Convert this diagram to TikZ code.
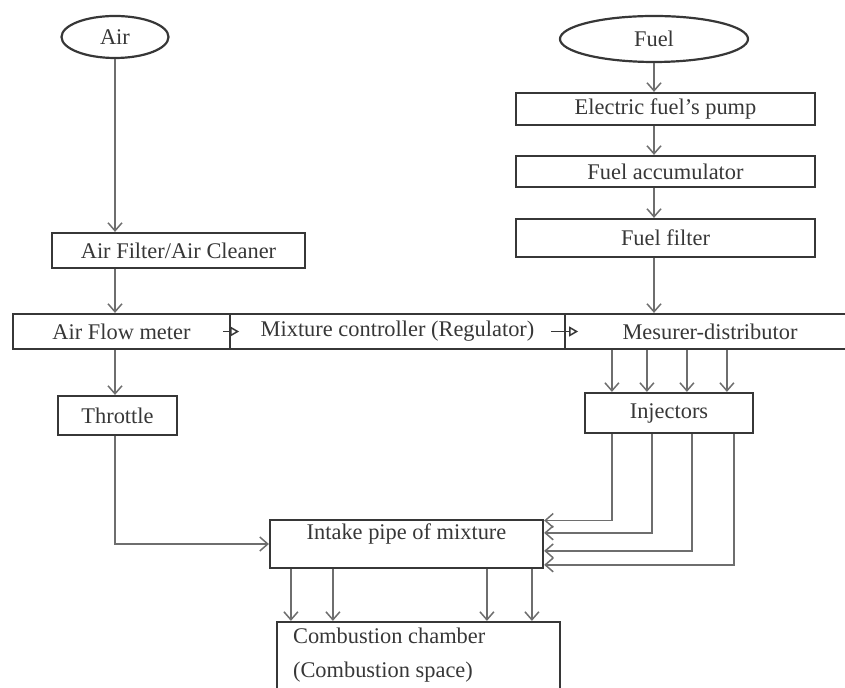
\documentclass[tikz,border=0pt]{standalone}
\usepackage{fontspec}
\setmainfont{Liberation Serif}
\usepackage{tikz}
\usetikzlibrary{arrows.meta,shapes.geometric}
\definecolor{boxgray}{RGB}{55,55,55}
\definecolor{linegray}{RGB}{110,110,110}
\definecolor{textgray}{RGB}{55,55,55}
\tikzset{
	blk/.style 2 args={draw=boxgray,line width=1.1pt,rectangle,inner sep=0pt,text=textgray,minimum width=#1*0.5pt,minimum height=#2*0.5pt},
	src/.style 2 args={draw=boxgray,line width=1.1pt,ellipse,inner sep=0pt,text=textgray,minimum width=#1*0.5pt,minimum height=#2*0.5pt},
	flow/.style={draw=linegray,line width=0.75pt,-{Straight Barb[length=4pt,width=7pt]}},
	pass/.style={draw=boxgray,line width=0.75pt,-{Triangle[open,length=4.5pt,width=5pt]}}
}

\begin{document}
\begin{tikzpicture}[x=0.5pt,y=-0.5pt,font=\fontsize{11.2}{15}\selectfont]
	\useasboundingbox (0,0) rectangle (845,688);

	\node [src={107}{42}] (air) at (115,37) {Air};
	\node [src={188}{46}] (fuel) at (654,39) {Fuel};

	\node [blk={299}{32}] (pump) at (665.5,109) {Electric fuel's pump};
	\node [blk={299}{31}] (acc) at (665.5,171.5) {Fuel accumulator};
	\node [blk={299}{38}] (filter) at (665.5,238) {Fuel filter};
	\node [blk={253}{35}] (airfilter) at (178.5,250.5) {Air Filter/Air Cleaner};

	\node [blk={217}{35}] (meter) at (121.5,331.5) {Air Flow meter};
	\node [blk={335}{35}] (mixer) at (397.5,331.5) {Mixture controller (Regulator)};
	\node [blk={290}{35}] (mesurer) at (710,331.5) {Mesurer-distributor};

	\node [blk={119}{39}] (throttle) at (117.5,415.5) {Throttle};
	\node [blk={168}{40}] (injectors) at (669,413) {Injectors};

	\node [blk={273}{48},text height=8pt,text depth=12pt] (intake) at (406.5,544) {Intake pipe of mixture};
	\node [blk={283}{84}] (comb) at (418.5,664) {};
	\node [text=textgray,align=left,anchor=west] (combtext) at (286,655) {Combustion chamber\\[2pt](Combustion space)};

	% air side
	\draw [flow] (air.south) -- (air.south |- airfilter.north);
	\draw [flow] (airfilter.south -| air) -- (air |- meter.north);
	\draw [flow] (meter.south -| air) -- (air |- throttle.north);
	\draw [flow] (throttle.south -| air) |- (intake.west);

	% fuel side
	\draw [flow] (fuel.south) -- (fuel.south |- pump.north);
	\draw [flow] (pump.south -| fuel) -- (fuel |- acc.north);
	\draw [flow] (acc.south -| fuel) -- (fuel |- filter.north);
	\draw [flow] (filter.south -| fuel) -- (fuel |- mesurer.north);

	\draw [pass] ([xshift=-4pt]meter.east) -- ([xshift=4pt]meter.east);
	\draw [pass] ([xshift=-7.5pt]mixer.east) -- ([xshift=6pt]mixer.east);

	\foreach \i/\d in {1/14,2/31.5,3/51.5,4/71.5}{
		\coordinate (in\i) at ([xshift=\d pt]injectors.north west);
		\draw [flow] (mesurer.south -| in\i) -- (in\i);
	}
	\foreach \i/\d/\e in {1/14/0.8,2/34/7,3/54/16,4/75/23}{
		\coordinate (out\i) at ([xshift=\d pt]injectors.south west);
		\coordinate (port\i) at ([yshift=-\e pt]intake.north east);
		\draw [flow] (out\i) |- (port\i);
	}
	\foreach \i/\d in {1/7.5,2/28.5,3/105.5,4/128}{
		\coordinate (ch\i) at ([xshift=\d pt]comb.north west);
		\draw [flow] (intake.south -| ch\i) -- (ch\i);
	}
\end{tikzpicture}
\end{document}
